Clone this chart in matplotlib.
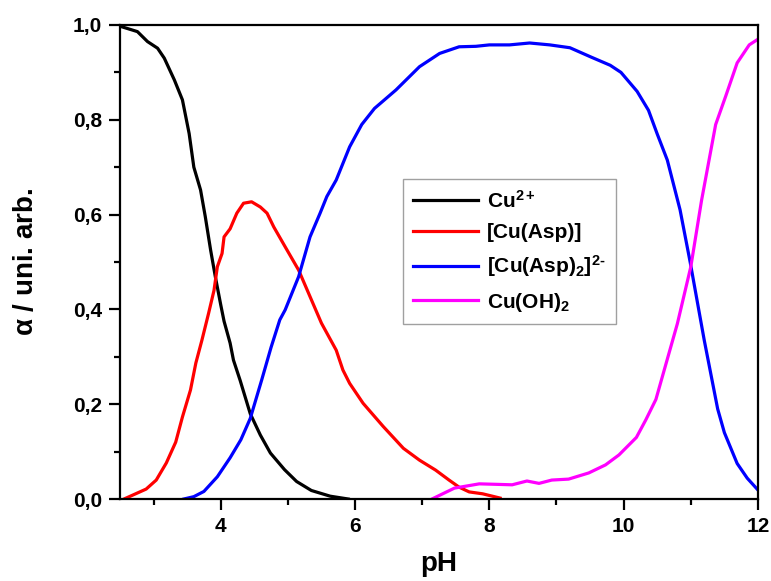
import numpy as np
from matplotlib import pyplot as plt
from matplotlib.ticker import MultipleLocator, FuncFormatter

plt.rcParams['font.family'] = ['Liberation Sans', 'DejaVu Sans']
plt.rcParams['font.weight'] = 'bold'
plt.rcParams['mathtext.fontset'] = 'custom'
plt.rcParams['mathtext.rm'] = 'Liberation Sans:bold'
plt.rcParams['mathtext.bf'] = 'Liberation Sans:bold'
plt.rcParams['mathtext.it'] = 'Liberation Sans:bold'
plt.rcParams['mathtext.sf'] = 'Liberation Sans'
plt.rcParams['mathtext.default'] = 'rm'

# species distribution of Cu / aspartate vs pH
ph_cu = [2.51, 2.76, 2.91, 3.06, 3.16, 3.31, 3.43, 3.53, 3.60, 3.70, 3.77, 3.85, 3.92, 4.00,
         4.05, 4.14, 4.19, 4.29, 4.44, 4.59, 4.74, 4.95, 5.13, 5.35, 5.63, 5.90]
a_cu = [0.997, 0.986, 0.965, 0.951, 0.930, 0.884, 0.842, 0.771, 0.700, 0.652, 0.596, 0.525, 0.469, 0.410,
        0.375, 0.329, 0.293, 0.250, 0.180, 0.135, 0.097, 0.062, 0.037, 0.018, 0.006, 0.0]

ph_cuasp = [2.56, 2.89, 3.04, 3.19, 3.33, 3.43, 3.55, 3.63, 3.72, 3.82, 3.90, 3.95, 4.02, 4.05,
            4.14, 4.24, 4.34, 4.46, 4.59, 4.69, 4.79, 4.96, 5.16, 5.33, 5.50, 5.72, 5.82, 5.92,
            6.12, 6.42, 6.72, 6.96, 7.20, 7.40, 7.55, 7.70, 7.90, 8.16]
a_cuasp = [0.0, 0.021, 0.040, 0.076, 0.120, 0.173, 0.230, 0.287, 0.335, 0.392, 0.440, 0.490, 0.518, 0.553,
           0.570, 0.603, 0.624, 0.627, 0.616, 0.603, 0.574, 0.532, 0.483, 0.427, 0.371, 0.314, 0.272, 0.244,
           0.202, 0.153, 0.107, 0.082, 0.061, 0.040, 0.025, 0.015, 0.011, 0.002]

ph_cuasp2 = [3.45, 3.60, 3.75, 3.95, 4.14, 4.30, 4.44, 4.61, 4.75, 4.88, 4.96, 5.16, 5.33, 5.48,
             5.58, 5.72, 5.92, 6.10, 6.29, 6.61, 6.96, 7.26, 7.55, 7.80, 8.00, 8.30, 8.60, 8.90,
             9.20, 9.52, 9.80, 9.96, 10.20, 10.37, 10.50, 10.65, 10.84, 10.99, 11.20, 11.40, 11.50,
             11.69, 11.84, 12.0]
a_cuasp2 = [0.0, 0.005, 0.016, 0.047, 0.087, 0.125, 0.170, 0.251, 0.320, 0.378, 0.399, 0.469, 0.553, 0.603,
            0.638, 0.673, 0.743, 0.790, 0.824, 0.863, 0.912, 0.940, 0.954, 0.955, 0.958, 0.958, 0.962, 0.958,
            0.952, 0.932, 0.915, 0.900, 0.860, 0.820, 0.770, 0.715, 0.610, 0.500, 0.335, 0.190, 0.140,
            0.075, 0.044, 0.019]

ph_cuoh2 = [7.16, 7.48, 7.85, 8.10, 8.34, 8.56, 8.74, 8.93, 9.18, 9.48, 9.73, 9.93, 10.19, 10.33,
            10.48, 10.60, 10.80, 10.90, 11.00, 11.16, 11.37, 11.52, 11.69, 11.87, 12.0]
a_cuoh2 = [0.001, 0.023, 0.032, 0.031, 0.030, 0.038, 0.033, 0.040, 0.042, 0.055, 0.072, 0.093, 0.130, 0.167,
           0.210, 0.270, 0.370, 0.430, 0.490, 0.630, 0.790, 0.850, 0.920, 0.958, 0.970]

fig = plt.figure(figsize=(7.71, 5.81), dpi=100)
ax = fig.add_axes([0.1556, 0.1411, 0.8275, 0.8159])

lw = 2.3
ax.plot(ph_cu, a_cu, color='black', lw=lw, label=r'Cu$^{2+}$')
ax.plot(ph_cuasp, a_cuasp, color='red', lw=lw, label='[Cu(Asp)]')
ax.plot(ph_cuasp2, a_cuasp2, color='blue', lw=lw, label=r'[Cu(Asp)$_2$]$^{2\text{-}}$')
ax.plot(ph_cuoh2, a_cuoh2, color='magenta', lw=lw, label=r'Cu(OH)$_2$')

ax.set_xlim(2.5, 12)
ax.set_ylim(0, 1)
ax.xaxis.set_major_locator(MultipleLocator(2))
ax.xaxis.set_minor_locator(MultipleLocator(1))
ax.yaxis.set_major_locator(MultipleLocator(0.2))
ax.yaxis.set_minor_locator(MultipleLocator(0.1))
ax.yaxis.set_major_formatter(FuncFormatter(lambda v, p: f'{v:.1f}'.replace('.', ',')))

for s in ax.spines.values():
    s.set_linewidth(1.6)
ax.tick_params(which='major', direction='out', length=8, width=1.6, labelsize=15, pad=5)
ax.tick_params(which='minor', direction='out', length=4.5, width=1.6)

ax.set_xlabel('pH', fontsize=20, fontweight='bold', labelpad=11)
ax.set_ylabel(r'$\mathsf{\alpha}$ / uni. arb.', fontsize=20, fontweight='bold', labelpad=24)

leg = ax.legend(loc='upper left', bbox_to_anchor=(0.4436, 0.675), fontsize=15,
                frameon=True, fancybox=False, edgecolor='#888888', handlelength=3.1,
                labelspacing=0.55, borderpad=0.5, handletextpad=0.45, borderaxespad=0)
leg.get_frame().set_linewidth(1.0)

plt.savefig('out.png', dpi=100)
plt.close()
